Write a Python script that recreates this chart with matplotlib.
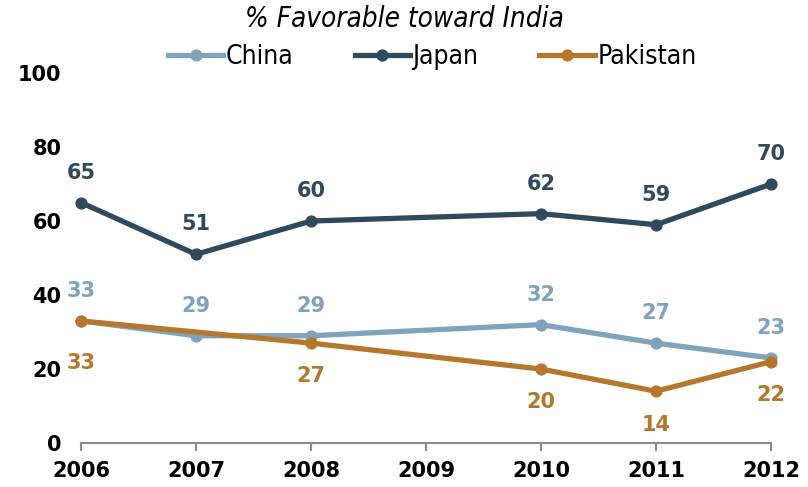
import matplotlib.pyplot as plt
from matplotlib import font_manager

years = [2006, 2007, 2008, 2009, 2010, 2011, 2012]

china_years = [2006, 2007, 2008, 2010, 2011, 2012]
china = [33, 29, 29, 32, 27, 23]

japan_years = [2006, 2007, 2008, 2010, 2011, 2012]
japan = [65, 51, 60, 62, 59, 70]

pak_years = [2006, 2008, 2010, 2011, 2012]
pakistan = [33, 27, 20, 14, 22]

c_china = '#7fa3bd'
c_japan = '#30495c'
c_pak = '#b5772c'

names = {f.name for f in font_manager.fontManager.ttflist}
narrow = 'Liberation Sans Narrow' if 'Liberation Sans Narrow' in names else 'DejaVu Sans'

fig = plt.figure(figsize=(8.08, 4.87), dpi=100)
ax = fig.add_axes([0.1002, 0.0903, 0.854, 0.7597])

lw = 3.8
ms = 7.8
ax.plot(china_years, china, color=c_china, lw=lw, marker='o', ms=ms,
        clip_on=False, label='China', zorder=3)
ax.plot(japan_years, japan, color=c_japan, lw=lw, marker='o', ms=ms,
        clip_on=False, label='Japan', zorder=3)
ax.plot(pak_years, pakistan, color=c_pak, lw=lw, marker='o', ms=ms,
        clip_on=False, label='Pakistan', zorder=4)

lab = dict(fontsize=15, fontweight='bold', ha='center', va='center',
           textcoords='offset points', annotation_clip=False)
for x, v in zip(japan_years, japan):
    ax.annotate(str(v), (x, v), xytext=(0, 21.5), color=c_japan, **lab)
for x, v in zip(china_years, china):
    ax.annotate(str(v), (x, v), xytext=(0, 21.5), color=c_china, **lab)
for x, v in zip(pak_years, pakistan):
    dy = -30 if x == 2006 else -24
    ax.annotate(str(v), (x, v), xytext=(0, dy), color=c_pak, **lab)

ax.set_xlim(2006, 2012)
ax.set_ylim(0, 100)
ax.set_xticks(years)
ax.set_xticklabels([str(y) for y in years], fontsize=15, fontweight='bold')
ax.set_yticks([0, 20, 40, 60, 80, 100])
ax.set_yticklabels(['0', '20', '40', '60', '80', '100'], fontsize=15, fontweight='bold')
ax.tick_params(axis='y', length=0, pad=14)
ax.tick_params(axis='x', length=6, width=1.5, color='#8a8a8a', direction='out', pad=7)
for s in ['top', 'right', 'left']:
    ax.spines[s].set_visible(False)
ax.spines['bottom'].set_color('#8a8a8a')
ax.spines['bottom'].set_linewidth(1.5)

fig.text(0.5, 0.962, '% Favorable toward India', ha='center', va='center',
         fontsize=20, style='oblique', stretch='condensed',
         family=[narrow, 'DejaVu Sans'])

leg = fig.legend(loc='center', bbox_to_anchor=(0.535, 0.883), ncol=3, frameon=False,
                 handlelength=2.1, handletextpad=0.1, columnspacing=2.3,
                 prop={'family': [narrow, 'DejaVu Sans'], 'size': 19,
                       'stretch': 'condensed'})

fig.savefig('out.png', dpi=100)
